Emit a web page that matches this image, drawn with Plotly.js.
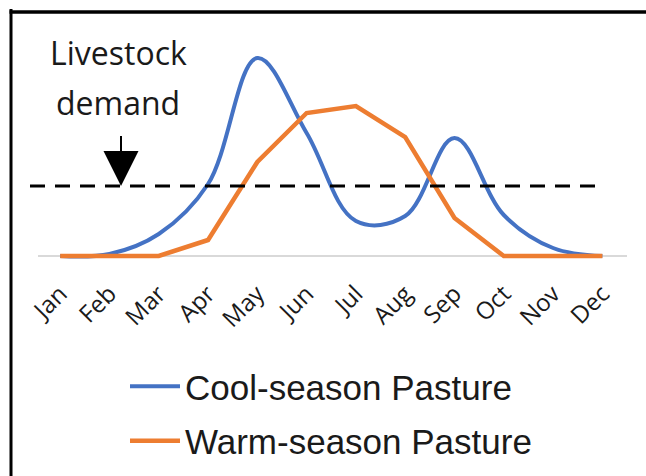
<!DOCTYPE html>
<html><head><meta charset="utf-8">
<script src="https://cdn.plot.ly/plotly-3.0.1.min.js"></script>
<style>html,body{margin:0;padding:0;background:#fff}#chart{width:646px;height:476px}</style>
</head><body><div id="chart"></div>
<script>
const months = ['Jan','Feb','Mar','Apr','May','Jun','Jul','Aug','Sep','Oct','Nov','Dec'];
const coolSeason = [0,2,22,72,198,123,35,40,118,41,8,0];
const warmSeason = [0,0,0,16,94,143,150,119,38,0,0,0];
const livestockDemand = 70;
const seriesNames = ['Cool-season Pasture','Warm-season Pasture'];
const demandLabel = ['Livestock','demand'];

const W=646,H=476,L=38,R=19,T=40,B=216;
const pw=W-L-R, ph=H-T-B;
const px = x => (x-L)/pw;
const py = y => (H-B-y)/ph;

const traces = [
  {x: months, y: coolSeason, name: seriesNames[0], mode:'lines', legendgroup:'a',
   line:{color:'#4472C4', width:4, shape:'spline', smoothing:1.05}},
  {x: months, y: warmSeason, name: seriesNames[1], mode:'lines', legendgroup:'b',
   line:{color:'#ED7D31', width:4.5}}
];

const layout = {
  width: W, height: H,
  margin:{l:L, r:R, t:T, b:B, pad:0, autoexpand:false},
  paper_bgcolor:'#fff', plot_bgcolor:'#fff',
  showlegend:true,
  legend:{xref:'container', yref:'container', x:125/W, y:1-357/H, xanchor:'left', yanchor:'top',
    font:{family:'Liberation Sans, Arial, sans-serif', size:35, color:'#1a1a1a'},
    bgcolor:'rgba(0,0,0,0)', tracegroupgap:6, itemwidth:50, traceorder:'grouped'},
  xaxis:{type:'category', range:[-0.45, 11.5], tickangle:-45, ticks:'', showgrid:false,
    zeroline:false, showline:false, fixedrange:true, automargin:false, ticklabelstandoff:14,
    tickfont:{family:'Open Sans, sans-serif', size:24, color:'#1a1a1a'}},
  yaxis:{range:[-4,216], showticklabels:false, showgrid:false, ticks:'', automargin:false,
    zeroline:true, zerolinecolor:'#d9d9d9', zerolinewidth:1.5, fixedrange:true},
  shapes:[
    {type:'line', xref:'paper', yref:'y', x0:px(30), x1:px(605), y0:livestockDemand, y1:livestockDemand,
     line:{color:'#000', width:3, dash:'15px,10px'}},
    {type:'line', xref:'paper', yref:'paper', x0:px(11), x1:px(11), y0:py(9), y1:py(480),
     line:{color:'#000', width:3}},
    {type:'line', xref:'paper', yref:'paper', x0:px(9.5), x1:px(650), y0:py(12), y1:py(12),
     line:{color:'#000', width:3.5}}
  ],
  annotations:[
    {xref:'paper', yref:'paper', x:px(118), y:py(52), text:demandLabel[0], showarrow:false,
     xanchor:'center', yanchor:'middle', font:{family:'Open Sans, sans-serif', size:32, color:'#1a1a1a'}},
    {xref:'paper', yref:'paper', x:px(118), y:py(102), text:demandLabel[1], showarrow:false,
     xanchor:'center', yanchor:'middle', font:{family:'Open Sans, sans-serif', size:32, color:'#1a1a1a'}},
    {xref:'paper', yref:'y', x:px(121), y:livestockDemand, ax:0, ay:-54, text:' ', showarrow:true,
     arrowhead:2, arrowsize:3.5, arrowwidth:2, arrowcolor:'#000', font:{size:4}}
  ]
};

Plotly.newPlot('chart', traces, layout, {displayModeBar:false, staticPlot:true});
</script></body></html>
